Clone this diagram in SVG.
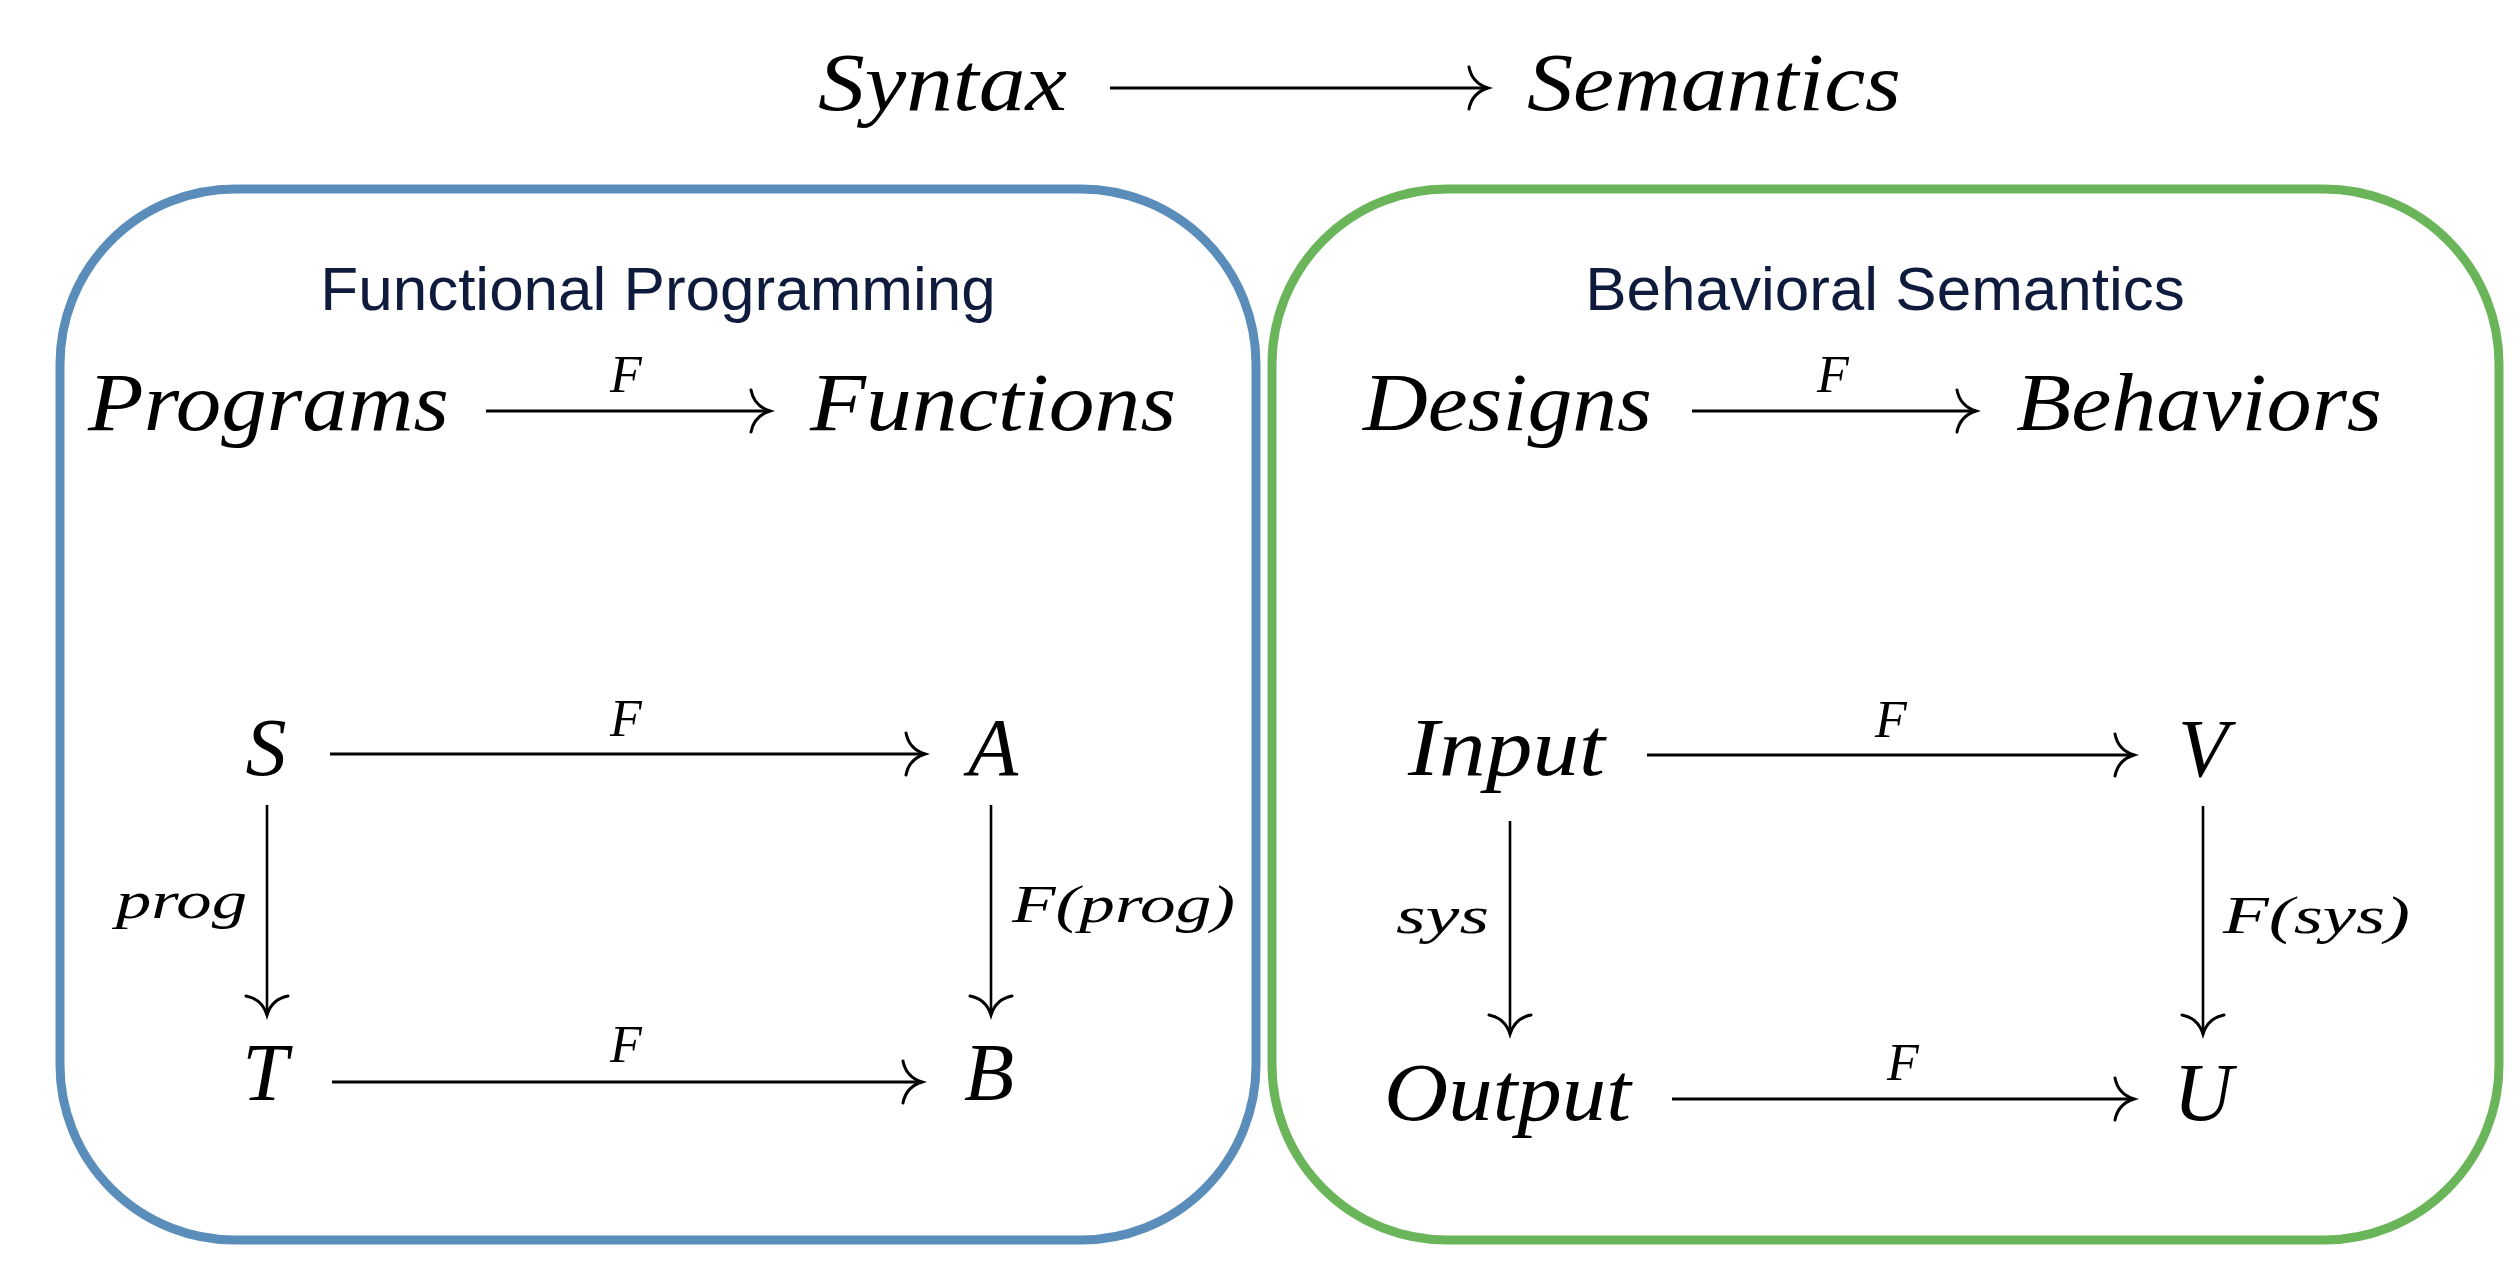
<svg xmlns="http://www.w3.org/2000/svg" width="2515" height="1271" viewBox="0 0 2515 1271">
<style>
.m{font-family:"Liberation Serif","DejaVu Serif",serif;font-style:italic;fill:#000}
.big{font-size:82px}
.lbl{font-size:52px}
.title{font-family:"Liberation Sans",Arial,sans-serif;font-size:62px;fill:#0f1b3d;text-anchor:middle}
.ar{stroke:#000;stroke-width:3;fill:none;marker-end:url(#ah)}
.av{stroke:#000;stroke-width:2.6;fill:none;marker-end:url(#ah)}
.c{text-anchor:middle}
</style>
<defs>
<marker id="ah" markerUnits="userSpaceOnUse" viewBox="-25 -25 30 50" refX="0" refY="0" markerWidth="30" markerHeight="50" orient="auto" overflow="visible">
<path d="M -19,-21 Q -16,-5 0,0 Q -16,5 -19,21" fill="none" stroke="#000" stroke-width="3" stroke-linecap="round"/>
</marker>
</defs>
<rect width="2515" height="1271" fill="#fff"/>

<g id="header">
<text class="m big" x="818" y="110" textLength="249" lengthAdjust="spacingAndGlyphs">Syntax</text>
<text class="m big" x="1527" y="110" textLength="374" lengthAdjust="spacingAndGlyphs">Semantics</text>
</g>

<g id="box-fp">
<rect x="60" y="189" width="1196" height="1051" rx="175" ry="175" fill="none" stroke="#5b8dbb" stroke-width="9"/>
<text class="title" x="658" y="310">Functional Programming</text>
</g>
<g id="box-bs">
<rect x="1272" y="189" width="1227" height="1051" rx="175" ry="175" fill="none" stroke="#6ab55a" stroke-width="9"/>
<text class="title" x="1885" y="310">Behavioral Semantics</text>
</g>

<g id="n-programs"><text class="m big" x="88" y="430" textLength="361" lengthAdjust="spacingAndGlyphs">Programs</text></g>
<g id="n-functions"><text class="m big" x="810" y="430" textLength="366" lengthAdjust="spacingAndGlyphs">Functions</text></g>
<g id="n-designs"><text class="m big" x="1363" y="430" textLength="289" lengthAdjust="spacingAndGlyphs">Designs</text></g>
<g id="n-behaviors"><text class="m big" x="2016" y="430" textLength="366" lengthAdjust="spacingAndGlyphs">Behaviors</text></g>

<g id="n-S"><text class="m big c" x="266" y="775">S</text></g>
<g id="n-A"><text class="m big c" x="993" y="775">A</text></g>
<g id="n-T"><text class="m big c" x="265" y="1100">T</text></g>
<g id="n-B"><text class="m big c" x="989" y="1100">B</text></g>

<g id="n-input"><text class="m big" x="1408" y="775" textLength="197" lengthAdjust="spacingAndGlyphs">Input</text></g>
<g id="n-V"><text class="m big c" x="2203" y="776">V</text></g>
<g id="n-output"><text class="m big" x="1384" y="1120" textLength="247" lengthAdjust="spacingAndGlyphs">Output</text></g>
<g id="n-U"><text class="m big c" x="2203" y="1120">U</text></g>

<g id="connectors">
<line class="ar" x1="1110" y1="88" x2="1488" y2="88"/>
<line class="ar" x1="486" y1="411" x2="770" y2="411"/>
<line class="ar" x1="1692" y1="411" x2="1976" y2="411"/>
<line class="ar" x1="330" y1="754" x2="925" y2="754"/>
<line class="ar" x1="332" y1="1082" x2="922" y2="1082"/>
<line class="av" x1="267" y1="805" x2="267" y2="1015"/>
<line class="av" x1="991" y1="805" x2="991" y2="1015"/>
<line class="ar" x1="1647" y1="755" x2="2134" y2="755"/>
<line class="ar" x1="1672" y1="1099" x2="2134" y2="1099"/>
<line class="av" x1="1510" y1="821" x2="1510" y2="1034"/>
<line class="av" x1="2203" y1="806" x2="2203" y2="1034"/>
<text class="m lbl c" x="626" y="392">F</text>
<text class="m lbl c" x="1833" y="392">F</text>
<text class="m lbl c" x="626" y="736">F</text>
<text class="m lbl c" x="626" y="1062">F</text>
<text class="m lbl" x="116" y="918" textLength="131" lengthAdjust="spacingAndGlyphs">prog</text>
<text class="m lbl" x="1012" y="922" textLength="223" lengthAdjust="spacingAndGlyphs">F(prog)</text>
<text class="m lbl c" x="1891" y="737">F</text>
<text class="m lbl c" x="1903" y="1080">F</text>
<text class="m lbl" x="1396" y="933" textLength="93" lengthAdjust="spacingAndGlyphs">sys</text>
<text class="m lbl" x="2223" y="933" textLength="187" lengthAdjust="spacingAndGlyphs">F(sys)</text>
</g>
</svg>
